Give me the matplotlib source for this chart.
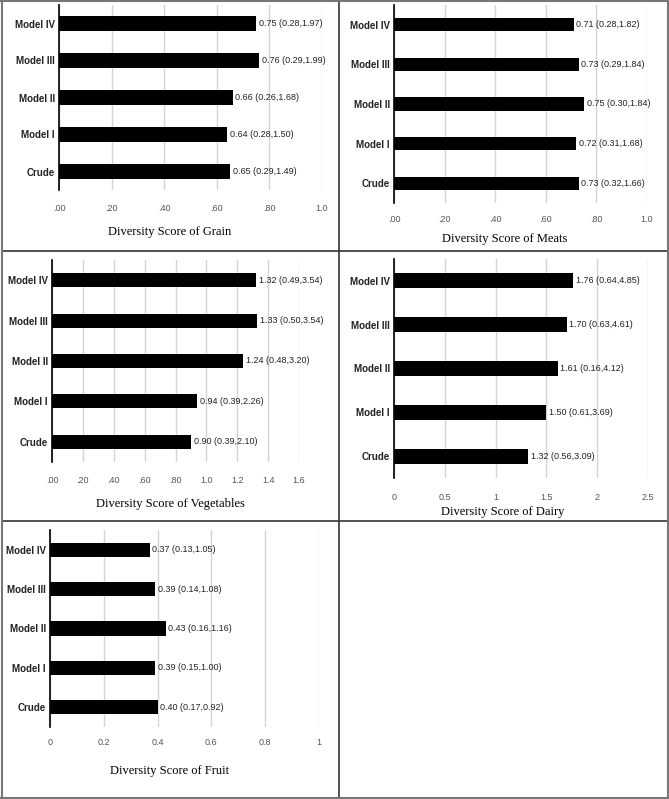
import matplotlib
matplotlib.use("Agg")
import matplotlib.pyplot as plt
from matplotlib.lines import Line2D

W, H = 669, 799

categories = ["Crude", "Model I", "Model II", "Model III", "Model IV"]

grain_or = [0.65, 0.64, 0.66, 0.76, 0.75]
grain_lo = [0.29, 0.28, 0.26, 0.29, 0.28]
grain_hi = [1.49, 1.50, 1.68, 1.99, 1.97]

meats_or = [0.73, 0.72, 0.75, 0.73, 0.71]
meats_lo = [0.32, 0.31, 0.30, 0.29, 0.28]
meats_hi = [1.66, 1.68, 1.84, 1.84, 1.82]

veg_or = [0.90, 0.94, 1.24, 1.33, 1.32]
veg_lo = [0.39, 0.39, 0.48, 0.50, 0.49]
veg_hi = [2.10, 2.26, 3.20, 3.54, 3.54]

dairy_or = [1.32, 1.50, 1.61, 1.70, 1.76]
dairy_lo = [0.56, 0.61, 0.16, 0.63, 0.64]
dairy_hi = [3.09, 3.69, 4.12, 4.61, 4.85]

fruit_or = [0.40, 0.39, 0.43, 0.39, 0.37]
fruit_lo = [0.17, 0.15, 0.16, 0.14, 0.13]
fruit_hi = [0.92, 1.00, 1.16, 1.08, 1.05]

dec_ticks = [0, 0.2, 0.4, 0.6, 0.8, 1.0]
dec_labels = [".00", ".20", ".40", ".60", ".80", "1.0"]
veg_ticks = [0, 0.2, 0.4, 0.6, 0.8, 1.0, 1.2, 1.4, 1.6]
veg_labels = [".00", ".20", ".40", ".60", ".80", "1.0", "1.2", "1.4", "1.6"]
dairy_ticks = [0, 0.5, 1, 1.5, 2, 2.5]
dairy_labels = ["0", "0.5", "1", "1.5", "2", "2.5"]
fruit_ticks = [0, 0.2, 0.4, 0.6, 0.8, 1]
fruit_labels = ["0", "0.2", "0.4", "0.6", "0.8", "1"]

SANS = ["Liberation Sans", "DejaVu Sans"]
SERIF = ["Liberation Serif", "DejaVu Serif"]


def px_axes(fig, left, top, right, bottom):
	return fig.add_axes([left / W, 1 - bottom / H, (right - left) / W, (bottom - top) / H])


def draw_panel(fig, box, values, lo, hi, ticks, tick_labels, xmax, title, title_xy,
		bar_h, pad):
	ax = px_axes(fig, *box)
	y = list(range(len(categories)))
	ax.barh(y, values, height=bar_h, color="black", zorder=3)
	ax.set_xlim(0, xmax)
	ax.set_ylim(-0.5, len(categories) - 0.5)
	ax.set_yticks(y)
	ax.set_yticklabels(categories, fontsize=7, fontweight="bold", family=SANS,
		color="#222222")
	ax.set_xticks(ticks)
	ax.set_xticklabels(tick_labels, fontsize=6.5, family=SANS, color="#555555")
	ax.tick_params(axis="both", length=0)
	ax.tick_params(axis="x", pad=pad)
	ax.tick_params(axis="y", pad=3)
	ax.grid(axis="x", color="#d4d4d4", linewidth=1, zorder=0)
	for s in ["top", "right", "bottom"]:
		ax.spines[s].set_visible(False)
	ax.spines["left"].set_linewidth(1.2)
	ax.spines["left"].set_zorder(4)
	for yi, v, l, h in zip(y, values, lo, hi):
		ax.annotate(f"{v:.2f} ({l:.2f},{h:.2f})", (v, yi), xytext=(2, 0),
			textcoords="offset points", va="center", ha="left",
			fontsize=6.5, family=SANS, color="#222222")
	fig.text(title_xy[0] / W, 1 - title_xy[1] / H, title, ha="center", va="center",
		fontsize=9, family=SERIF)
	return ax


def main():
	fig = plt.figure(figsize=(W / 100, H / 100), dpi=100)

	draw_panel(fig, (59, 5, 322, 190), grain_or, grain_lo, grain_hi, dec_ticks,
		dec_labels, 1.0, "Diversity Score of Grain", (170, 232), 0.41, 10)
	draw_panel(fig, (394, 5, 647, 203), meats_or, meats_lo, meats_hi, dec_ticks,
		dec_labels, 1.0, "Diversity Score of Meats", (505, 239), 0.33, 8.6)
	draw_panel(fig, (52, 260, 299, 462), veg_or, veg_lo, veg_hi, veg_ticks,
		veg_labels, 1.6, "Diversity Score of Vegetables", (170, 504), 0.35, 10)
	draw_panel(fig, (394, 259, 648, 478), dairy_or, dairy_lo, dairy_hi, dairy_ticks,
		dairy_labels, 2.5, "Diversity Score of Dairy", (503, 512), 0.34, 10.5)
	draw_panel(fig, (50, 530, 319, 727), fruit_or, fruit_lo, fruit_hi, fruit_ticks,
		fruit_labels, 1.0, "Diversity Score of Fruit", (170, 771), 0.36, 8)

	# table borders
	def hline(yp, x0, x1, color="#333333", lw=1.2):
		fig.add_artist(Line2D([x0 / W, x1 / W], [1 - yp / H, 1 - yp / H],
			color=color, linewidth=lw))

	def vline(xp, y0, y1, color="#333333", lw=1.2):
		fig.add_artist(Line2D([xp / W, xp / W], [1 - y0 / H, 1 - y1 / H],
			color=color, linewidth=lw))

	hline(251, 2, 667)
	hline(521, 2, 667)
	vline(339, 1, 797)
	hline(1, 1, 668, color="#777777", lw=1.5)
	hline(797.5, 1, 668, color="#777777", lw=1.5)
	vline(1.5, 1, 798, color="#777777", lw=1.5)
	vline(667.5, 1, 798, color="#777777", lw=1.5)

	fig.savefig("out.png", dpi=100)


if __name__ == "__main__":
	main()
